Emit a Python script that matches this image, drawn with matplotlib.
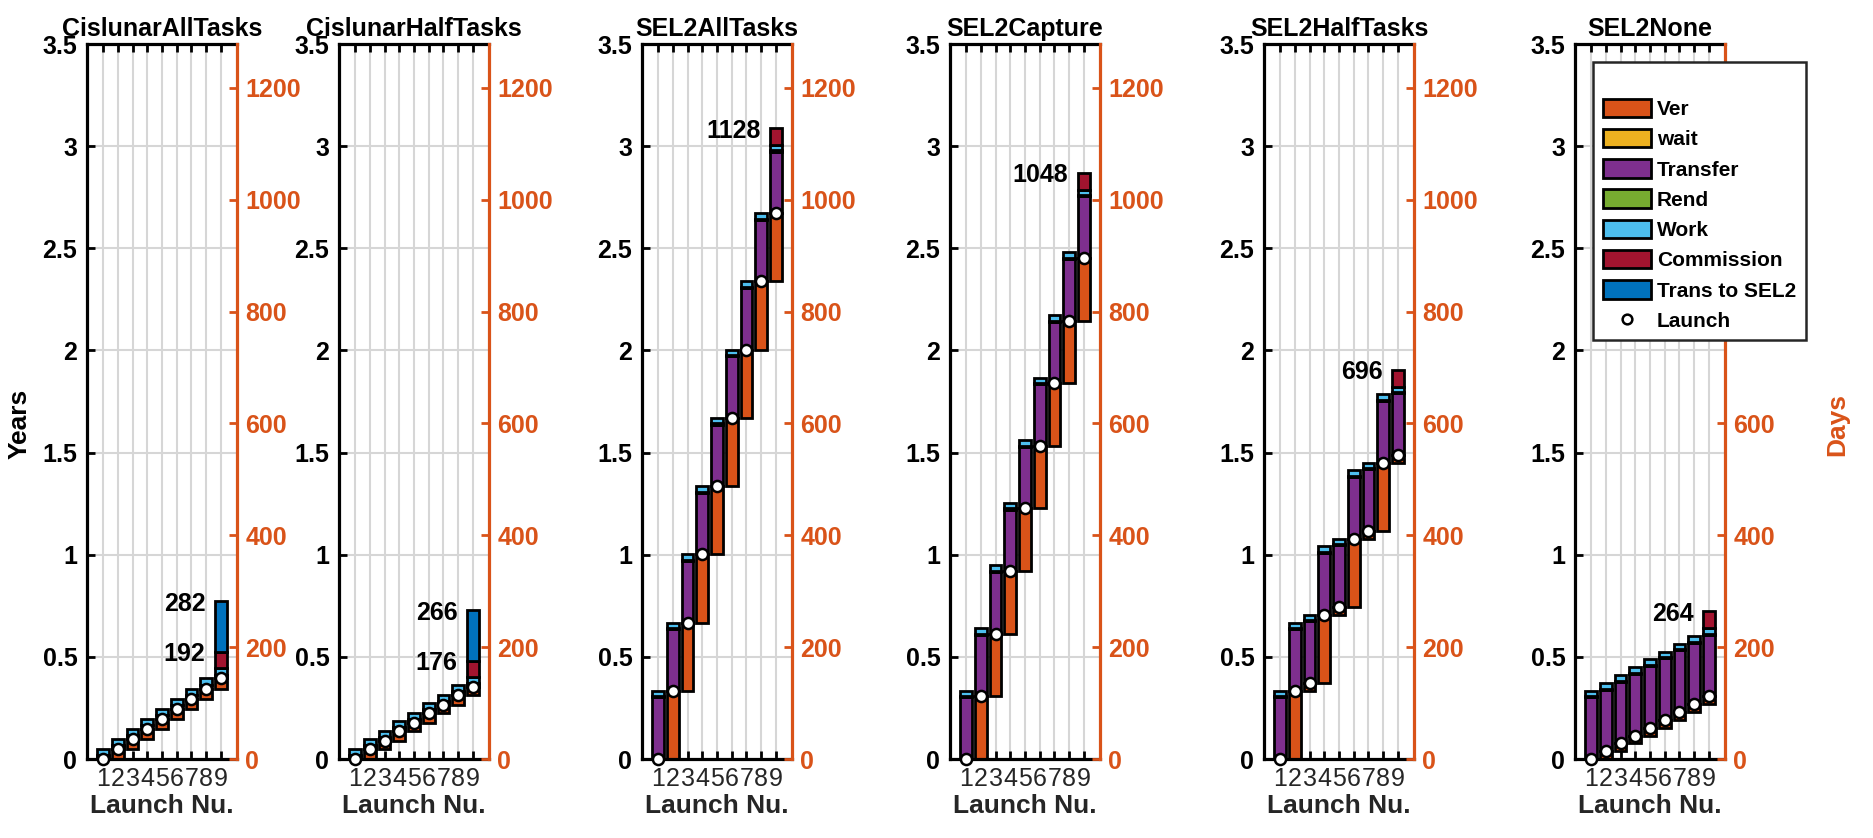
import matplotlib
matplotlib.use('Agg')
import matplotlib.pyplot as plt
from matplotlib.patches import Patch
from matplotlib.lines import Line2D

plt.rcParams['font.family'] = ['Liberation Sans', 'DejaVu Sans']

DAYS_PER_YEAR = 365.25

panel_titles = ['CislunarAllTasks', 'CislunarHalfTasks', 'SEL2AllTasks',
                'SEL2Capture', 'SEL2HalfTasks', 'SEL2None']
launch_nums = [1, 2, 3, 4, 5, 6, 7, 8, 9]

# launch day of each craft, per scenario
launch_cislunar_all = [0, 18, 36, 54, 72, 90, 108, 126, 144]
launch_cislunar_half = [0, 18, 32, 50, 64, 82, 96, 114, 128]
launch_sel2_all = [0, 122, 244, 366, 488, 610, 732, 854, 976]
launch_sel2_capture = [0, 112, 224, 336, 448, 560, 672, 784, 896]
launch_sel2_half = [0, 122, 136, 258, 272, 394, 408, 530, 544]
launch_sel2_none = [0, 14, 28, 42, 56, 70, 84, 98, 112]
launches = [launch_cislunar_all, launch_cislunar_half, launch_sel2_all,
            launch_sel2_capture, launch_sel2_half, launch_sel2_none]

# phase durations after each launch (days), per scenario
wait_days = [0, 0, 0, 0, 0, 0]
transfer_days = [6, 6, 110, 110, 110, 110]
rend_days = [1, 1, 2, 2, 2, 2]
work_days = [11, 11, 10, 10, 10, 10]
# phases after the last launch only
commission_days = [30, 30, 30, 30, 30, 30]
trans_sel2_days = [90, 90, 0, 0, 0, 0]

phase_names = ['Ver', 'wait', 'Transfer', 'Rend', 'Work', 'Commission', 'Trans to SEL2']
phase_colors = ['#D95319', '#EDB120', '#7E2F8E', '#77AC30', '#4DBEEE', '#A2142F', '#0072BD']
ORANGE = '#D95319'

W, H = 1874, 838
fig = plt.figure(figsize=(W / 100, H / 100), dpi=100)

lefts_px = [87, 339, 642, 950, 1264, 1575]
ax_w_px = 150
bottom = 1 - 759 / H
height = (759 - 44) / H

EDGE_LW = 2.0
for p, title in enumerate(panel_titles):
    ax = fig.add_axes([lefts_px[p] / W, bottom, ax_w_px / W, height])
    ax.set_axisbelow(True)
    lau = launches[p]
    for i, x in enumerate(launch_nums):
        base = lau[i - 1] if i > 0 else 0
        segs = [lau[i] - base, wait_days[p], transfer_days[p], rend_days[p], work_days[p]]
        if i == len(launch_nums) - 1:
            segs += [commission_days[p], trans_sel2_days[p]]
        cur = base
        for k, d in enumerate(segs):
            if d > 0:
                ax.bar(x, d / DAYS_PER_YEAR, bottom=cur / DAYS_PER_YEAR, width=0.8,
                       color=phase_colors[k], edgecolor='black', linewidth=EDGE_LW, zorder=2)
            cur += d
    ax.plot(launch_nums, [v / DAYS_PER_YEAR for v in lau], 'o', mfc='white', mec='black',
            ms=8, mew=1.8, zorder=5, clip_on=False)

    # annotations
    last = lau[-1] + wait_days[p] + transfer_days[p] + rend_days[p] + work_days[p]
    end_comm = last + commission_days[p]
    total = end_comm + trans_sel2_days[p]
    lab_vals = [total] if trans_sel2_days[p] == 0 else [end_comm, total]
    for v in lab_vals:
        ax.text(7.95, v / DAYS_PER_YEAR - 0.012, f'{v}', ha='right', va='center',
                fontsize=18, fontweight='bold', color='black', zorder=6)

    ax.set_xlim(-0.1, 10.1)
    ax.set_ylim(0, 3.5)
    ax.set_xticks(launch_nums)
    ax.set_xticklabels([str(n) for n in launch_nums], fontsize=18, color='#262626')
    yt = [0, 0.5, 1, 1.5, 2, 2.5, 3, 3.5]
    ax.set_yticks(yt)
    ax.set_yticklabels(['0', '0.5', '1', '1.5', '2', '2.5', '3', '3.5'],
                       fontsize=18, fontweight='bold')
    ax.tick_params(axis='both', direction='in', length=6, width=2, top=True,
                   right=False)
    ax.tick_params(axis='y', pad=7)
    ax.tick_params(axis='x', pad=6)
    ax.grid(True, color='#d6d6d6', linewidth=1.5)
    for s in ['left', 'bottom', 'top']:
        ax.spines[s].set_linewidth(2.3)
        ax.spines[s].set_color('black')
    ax.set_title(title, fontsize=18, fontweight='bold', pad=6)
    ax.set_xlabel('Launch Nu.', fontsize=19, fontweight='bold', color='#262626', labelpad=2)

    ax2 = ax.twinx()
    ax2.set_ylim(0, 3.5 * DAYS_PER_YEAR)
    ax2.set_yticks([0, 200, 400, 600, 800, 1000, 1200])
    ax2.set_yticklabels(['0', '200', '400', '600', '800', '1000', '1200'],
                        fontsize=18, fontweight='bold', color=ORANGE)
    ax2.tick_params(axis='y', direction='in', length=6, width=2, color=ORANGE, pad=6)
    for s in ['left', 'bottom', 'top']:
        ax2.spines[s].set_visible(False)
    ax2.spines['right'].set_color(ORANGE)
    ax2.spines['right'].set_linewidth(2.3)

fig.text(20 / W, 1 - 424 / H, 'Years', rotation=90, ha='center', va='center',
         fontsize=19, fontweight='bold')
fig.text(1837 / W, 1 - 424 / H, 'Days', rotation=90, ha='center', va='center',
         fontsize=19, fontweight='bold', color=ORANGE)

handles = [Patch(facecolor=c, edgecolor='black', linewidth=2) for c in phase_colors]
handles.append(Line2D([], [], marker='o', linestyle='none', mfc='white', mec='black',
                      ms=7, mew=1.8))
labels = phase_names + ['Launch']
leg = fig.legend(handles, labels, loc='upper left',
                 bbox_to_anchor=(1583 / W, 1 - 52 / H),
                 prop={'weight': 'bold', 'size': 15}, frameon=True, fancybox=False,
                 edgecolor='#262626', framealpha=1, handlelength=2.3, handleheight=1.0,
                 labelspacing=0.47, handletextpad=0.3, borderpad=0.45,
                 title=' ', title_fontsize=14)
leg.get_frame().set_linewidth(1.8)

fig.savefig('out.png', dpi=100)
